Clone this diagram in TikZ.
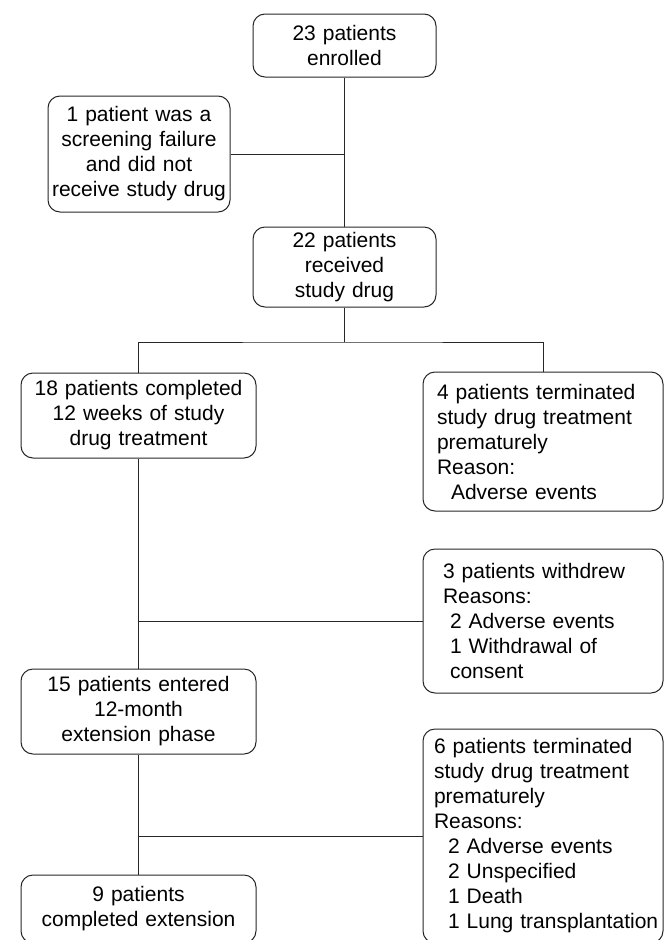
\documentclass[tikz,border=0pt]{standalone}
\usepackage{fontspec}
\setmainfont{Liberation Sans}
\begin{document}
\begin{tikzpicture}[x=1pt,y=-1pt,line width=1pt]
            \useasboundingbox (0,0) rectangle (664,940);
            \clip (0,0) rectangle (664,940);
            \begin{scope}[every node/.style={rectangle, rounded corners=12pt, draw = black!85, font=\fontsize{21}{25}\selectfont, inner sep=0pt}]
                \node[align=center, text width=183pt, minimum height=63pt] (enrol) at (344.5, 45.5) {23 patients\\ enrolled};
                \node[align=center, text width=182pt, minimum height=116pt] (fail) at (139, 154) {1 patient was a\\ screening failure\\ and did not\\ receive study drug};
                \node[align=center, text width=183pt, minimum height=80pt] (recv) at (344.5, 267) {22 patients\\ received\\ study drug};
                \node[align=center, text width=235pt, minimum height=85pt] (wk12) at (138.5, 415.5) {18 patients completed\\ 12 weeks of study\\ drug treatment};
                \node[align=left, inner xsep=14pt, text width=212pt, minimum height=139pt] (term4) at (543, 441.5) {4 patients terminated\\ study drug treatment\\ prematurely\\ Reason:\\ \hspace*{14pt}Adverse events};
                \node[align=left, inner xsep=20pt, text width=200pt, minimum height=144pt] (withdrew) at (543, 621) {3 patients withdrew\\ Reasons:\\ \hspace*{7pt}2 Adverse events\\ \hspace*{7pt}1 Withdrawal of\\ \hspace*{7pt}consent};
                \node[align=center, text width=235pt, minimum height=85pt] (ext) at (138.5, 711.5) {15 patients entered\\ 12-month\\ extension phase};
                \node[align=left, inner xsep=11pt, text width=218pt, minimum height=214pt] (term6) at (543, 836) {6 patients terminated\\ study drug treatment\\ prematurely\\ Reasons:\\ \hspace*{14pt}2 Adverse events\\ \hspace*{14pt}2 Unspecified\\ \hspace*{14pt}1 Death\\ \hspace*{14pt}\mbox{1 Lung transplantation}};
                \node[align=center, text width=235pt, minimum height=68pt] (done) at (138.5, 909) {9 patients\\ completed extension};
            \end{scope}
            \coordinate (failjoin) at (344.5, 154);
            \coordinate (split) at (344.5, 342);

            \draw[black!85] (enrol)--(recv);
            \draw[black!85] (fail)--(failjoin);
            \draw[black!85] (recv)--(split);
            \draw[black!85] (wk12.north) |- (split) -| (term4.north);
            \draw[black!85] (wk12)--(ext);
            \draw[black!85] (wk12.south |- withdrew.west)--(withdrew.west);
            \draw[black!85] (ext)--(done);
            \draw[black!85] (ext.south |- term6.west)--(term6.west);
        \end{tikzpicture}
\end{document}
